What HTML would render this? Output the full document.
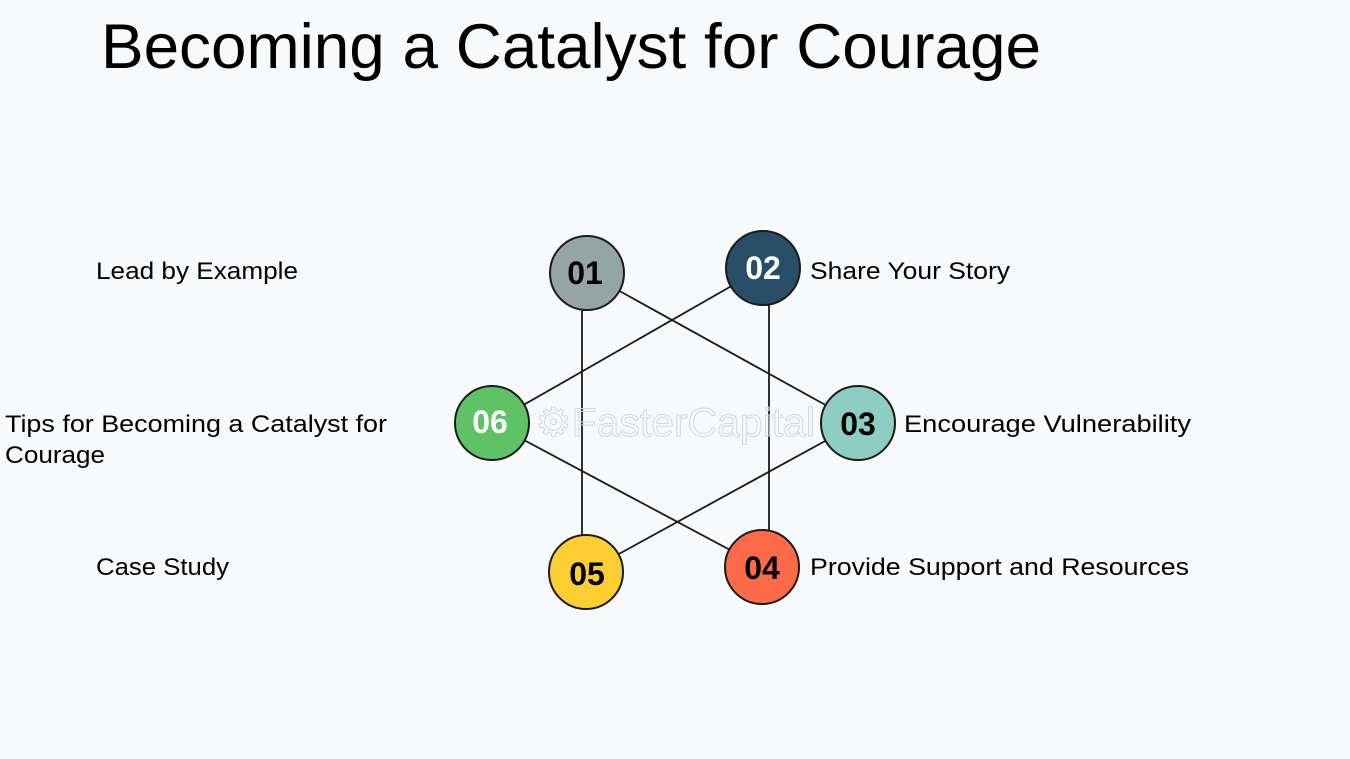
<!DOCTYPE html>
<html><head><meta charset="utf-8"><style>
html,body{margin:0;padding:0;background:#f8f9fb;}
svg{display:block}
text{font-family:"Liberation Sans",sans-serif;fill:#000}
</style></head><body>
<svg width="1350" height="759" viewBox="0 0 1350 759" xmlns="http://www.w3.org/2000/svg">
<rect width="1350" height="759" fill="#f8f9fb"/>
<text x="101" y="68" font-size="63" textLength="940" lengthAdjust="spacingAndGlyphs">Becoming a Catalyst for Courage</text>
<g stroke="#1a1a1a" stroke-width="1.8">
<line x1="587" y1="273" x2="858" y2="423"/>
<line x1="763" y1="268" x2="492" y2="423"/>
<line x1="582" y1="273" x2="582" y2="572"/>
<line x1="769" y1="268" x2="769" y2="567"/>
<line x1="492" y1="423" x2="762" y2="567"/>
<line x1="858" y1="423" x2="586" y2="572"/>
</g>
<text x="535" y="436" font-size="40" fill="none" stroke="#d4d6da" stroke-width="1" textLength="280" lengthAdjust="spacingAndGlyphs" style="fill:none">⚙FasterCapital</text>
<g stroke="#1a1a1a" stroke-width="2">
<circle cx="587" cy="273" r="37" fill="#95a5a3"/>
<circle cx="763" cy="268" r="37" fill="#264e66"/>
<circle cx="858" cy="423" r="37" fill="#8dcdc3"/>
<circle cx="762" cy="567" r="37" fill="#fd6a4a"/>
<circle cx="586" cy="572" r="37" fill="#fcce32"/>
<circle cx="492" cy="423" r="37" fill="#5fc366"/>
</g>
<g font-size="32" font-weight="bold" text-anchor="middle">
<text x="585" y="284" fill="#1c1c1c">01</text>
<text x="763" y="279" style="fill:#fff">02</text>
<text x="858" y="435">03</text>
<text x="762" y="579">04</text>
<text x="587" y="585">05</text>
<text x="490" y="433" style="fill:#fff">06</text>
</g>
<g font-size="24">
<text x="96" y="279" textLength="202" lengthAdjust="spacingAndGlyphs">Lead by Example</text>
<text x="810" y="279" textLength="200" lengthAdjust="spacingAndGlyphs">Share Your Story</text>
<text x="904" y="432" textLength="287" lengthAdjust="spacingAndGlyphs">Encourage Vulnerability</text>
<text x="810" y="575" textLength="379" lengthAdjust="spacingAndGlyphs">Provide Support and Resources</text>
<text x="96" y="575" textLength="133" lengthAdjust="spacingAndGlyphs">Case Study</text>
<text x="5" y="432" textLength="382" lengthAdjust="spacingAndGlyphs">Tips for Becoming a Catalyst for</text>
<text x="5" y="463" textLength="100" lengthAdjust="spacingAndGlyphs">Courage</text>
</g>
</svg>
</body></html>
